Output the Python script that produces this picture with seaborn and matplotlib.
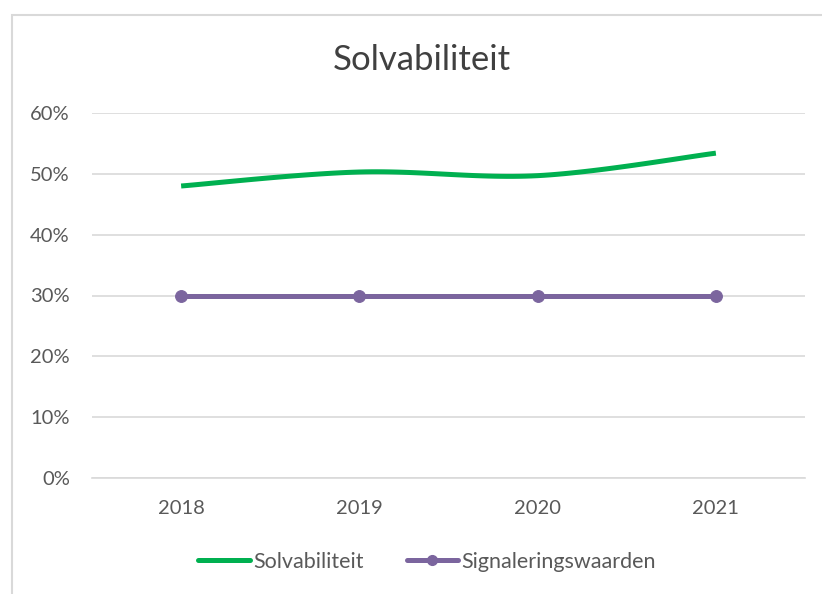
import matplotlib
matplotlib.use("Agg")
import matplotlib.pyplot as plt
from matplotlib.lines import Line2D
from matplotlib.patches import Rectangle
from matplotlib.ticker import PercentFormatter, FixedLocator
import seaborn as sns
import numpy as np
import pandas as pd

years = ["2018", "2019", "2020", "2021"]
solvabiliteit = [0.480, 0.503, 0.497, 0.534]
signaleringswaarden = [0.30, 0.30, 0.30, 0.30]

GREEN = "#00B050"
PURPLE = "#7B659E"
TEXT = "#595959"
GRID = "#D9D9D9"


def smooth(y, steps=30):
    # Catmull-Rom curve through the points, like Excel's "smoothed line"
    x = np.arange(len(y), dtype=float)
    p = np.column_stack([x, np.asarray(y, dtype=float)])
    p = np.vstack([p[0], p, p[-1]])
    out = []
    for i in range(1, len(p) - 2):
        p0, p1, p2, p3 = p[i - 1], p[i], p[i + 1], p[i + 2]
        t = np.linspace(0, 1, steps)[:, None]
        seg = 0.5 * ((2 * p1) + (-p0 + p2) * t
                     + (2 * p0 - 5 * p1 + 4 * p2 - p3) * t ** 2
                     + (-p0 + 3 * p1 - 3 * p2 + p3) * t ** 3)
        out.append(seg if i == len(p) - 3 else seg[:-1])
    out = np.vstack(out)
    return out[:, 0], out[:, 1]


sns.set_style("white")
plt.rcParams["font.family"] = ["Lato", "DejaVu Sans"]

fig = plt.figure(figsize=(8.22, 5.94), dpi=100)
W, H = 822, 594
ax = fig.add_axes([92 / W, (H - 478) / H, (805 - 92) / W, (478 - 113) / H])

# chart border
fig.patches.append(Rectangle((12 / W, -0.05), 1.2, (H - 15) / H + 0.05,
                             transform=fig.transFigure, fill=False,
                             edgecolor=GRID, linewidth=1.5))

xs, ys = smooth(solvabiliteit)
smooth_df = pd.DataFrame({"x": xs, "y": ys})
sns.lineplot(data=smooth_df, x="x", y="y", ax=ax, color=GREEN, linewidth=3.6,
             solid_capstyle="butt", zorder=3)

sig_df = pd.DataFrame({"x": np.arange(len(years)), "y": signaleringswaarden})
sns.lineplot(data=sig_df, x="x", y="y", ax=ax, color=PURPLE, linewidth=3.6,
             marker="o", markersize=8.5, markeredgecolor=PURPLE, zorder=3)

ax.set_xlim(-0.5, len(years) - 0.5)
ax.set_ylim(0, 0.6)
ax.set_yticks(np.arange(0, 0.61, 0.1))
ax.yaxis.set_major_formatter(PercentFormatter(1.0, decimals=0))
ax.set_xticks(range(len(years)))
ax.set_xticklabels(years)
ax.xaxis.set_minor_locator(FixedLocator(np.arange(-0.5, len(years), 1.0)))
ax.tick_params(axis="x", which="major", length=0, pad=16, labelsize=14.5, labelcolor=TEXT)
ax.tick_params(axis="x", which="minor", length=5, color=GRID, width=1.2)
ax.tick_params(axis="y", length=0, pad=16, labelsize=14.5, labelcolor=TEXT)
ax.set_xlabel("")
ax.set_ylabel("")

ax.grid(axis="y", color=GRID, linewidth=1.2)
ax.set_axisbelow(True)
for side in ["left", "right", "top"]:
    ax.spines[side].set_visible(False)
ax.spines["bottom"].set_color(GRID)
ax.spines["bottom"].set_linewidth(1.2)

fig.text(422 / W, 1 - 60 / H, "Solvabiliteit", ha="center", va="center",
         fontsize=25, color="#404040")

handles = [
    Line2D([], [], color=GREEN, linewidth=3.6),
    Line2D([], [], color=PURPLE, linewidth=3.6, marker="o", markersize=7),
]
fig.legend(handles, ["Solvabiliteit", "Signaleringswaarden"],
           loc="center", bbox_to_anchor=(427 / W, 1 - 562 / H), ncol=2,
           frameon=False, fontsize=15.5, labelcolor=TEXT, handlelength=2.4,
           handletextpad=0.15, columnspacing=2.0)

fig.savefig("out.png", dpi=100)
